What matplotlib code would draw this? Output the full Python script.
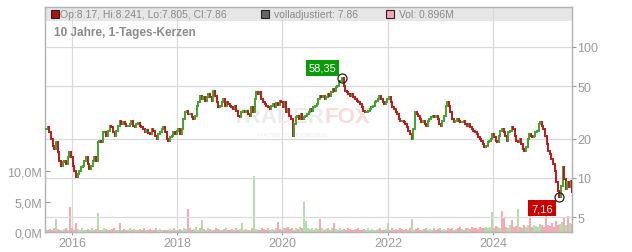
import numpy as np
import pandas as pd
import matplotlib
matplotlib.use('Agg')
import matplotlib.pyplot as plt
from matplotlib.patches import Rectangle
from matplotlib.collections import LineCollection
import matplotlib.dates as mdates

plt.rcParams['font.family'] = ['Liberation Sans', 'DejaVu Sans']

# closing prices, one chunk per date span
close_2015_2017 = [23.7, 24.5, 22.4, 19.8, 17.5, 16.6, 18.8, 15.8, 13.5, 12.3,
                   13.2, 13.5, 12.8, 14.5, 15.8, 14.5, 12.3, 11.3, 10.2, 10.7,
                   11.3, 12.1, 12.3, 13.5, 14.5, 12.8, 11.7, 12.3, 13.5, 14.5,
                   13.5, 18.8, 19.2, 18.8, 22.4, 22.4, 20.9, 22.8, 24.9, 24.5,
                   22.4, 20.9, 22.8, 24.9, 27.2, 25.8, 26.8, 25.8, 24.9, 24.9,
                   25.8, 27.2, 24.9, 24.5, 25.8, 26.3, 24.9, 24.5, 23.7, 22.4,
                   23.2, 22.0]
close_2017_2019 = [21.7, 23.7, 22.8, 20.9, 19.8, 21.7, 22.4, 23.7, 24.5, 22.4,
                   19.8, 19.2, 20.6, 20.9, 22.4, 21.7, 22.8, 23.7, 21.7, 23.7,
                   28.2, 31.9, 32.5, 30.8, 30.8, 29.2, 28.2, 29.7, 35.4, 38.0,
                   42.3, 40.1, 41.5, 38.7, 41.5, 43.8, 41.5, 38.7, 46.1, 42.3,
                   38.0, 34.8, 35.4, 38.0, 40.1, 35.4, 38.0, 36.7, 35.4, 34.8,
                   33.6, 35.4, 32.5, 29.7, 29.2, 31.9, 32.5, 31.9, 32.5, 30.8,
                   29.7, 34.8, 31.9, 40.1, 45.4, 43.8, 45.4, 40.1, 38.0, 36.7,
                   35.4, 34.8, 33.6, 35.4, 36.7, 34.8, 37.3, 36.1]
close_2019_2021 = [38.7, 38.0, 34.8, 38.0, 31.9, 33.6, 29.7, 28.2, 20.9, 25.8,
                   29.2, 29.7, 28.2, 30.8, 28.2, 29.2, 29.7, 30.8, 31.9, 33.6,
                   32.5, 34.8, 35.4, 36.7, 40.1, 42.3, 41.5, 42.3, 40.1, 41.5,
                   43.8, 42.3, 45.4, 47.8, 46.1, 49.5, 50.4, 54.1, 55.0, 58.35,
                   50.4, 46.1, 45.4, 43.8, 42.3, 43.8, 41.5]
close_2021_2023 = [40.1, 38.7, 38.0, 36.7, 34.8, 32.5, 31.9, 31.9, 32.5, 33.6,
                   34.8, 35.4, 38.0, 38.7, 40.1, 42.3, 40.1, 38.0, 36.7, 38.0,
                   40.1, 41.5, 38.0, 34.8, 33.6, 31.9, 30.8, 28.2, 27.2, 27.2,
                   26.8, 25.8, 24.5, 22.8, 21.7, 19.8, 23.7, 31.9, 30.8, 29.7,
                   28.2, 26.8, 27.2, 25.8, 24.9, 27.2, 28.2, 29.2, 29.7, 29.2,
                   29.7, 28.2, 25.8, 24.9, 27.2, 29.7, 35.4, 38.0, 35.4, 31.9,
                   28.2, 26.8, 27.2, 28.2, 27.2, 26.8]
close_2023_2025 = [26.8, 27.2, 25.8, 24.9, 25.8, 24.5, 23.7, 22.8, 22.4, 21.7,
                   20.6, 19.8, 19.2, 18.2, 17.2, 17.5, 18.8, 19.2, 19.8, 21.7,
                   20.6, 19.2, 18.8, 20.9, 22.8, 23.7, 22.4, 20.9, 19.2, 22.4,
                   22.8, 24.5, 23.7, 20.9, 19.2, 18.8, 19.8, 18.2, 16.6, 16.1,
                   17.2, 19.8, 21.7, 20.9, 20.6, 20.9, 22.4, 22.8, 25.8, 26.8,
                   24.9, 23.7, 20.9, 18.2, 16.1, 15.2, 14.0, 12.8, 11.3, 9.3,
                   7.95, 7.16, 8.7, 12.1, 9.8, 8.2, 9.3, 8.5, 9.5, 7.86]

chunks = [
    ('2015-07-04', '2017-06-12', close_2015_2017),
    ('2017-06-26', '2019-12-01', close_2017_2019),
    ('2019-12-14', '2021-05-06', close_2019_2021),
    ('2021-05-19', '2023-05-18', close_2021_2023),
    ('2023-06-01', '2025-07-03', close_2023_2025),
]

# volume in millions, evenly spaced over the whole period
volume = [0.3, 0.4, 0.5, 0.3, 0.6, 2.2, 0.5, 0.4, 0.3, 0.5, 0.7, 0.4, 4.1, 0.6, 0.3, 1.5, 0.5, 0.4, 0.6, 0.3,
          0.4, 0.5, 0.3, 0.6, 0.4, 0.5, 3.1, 0.4, 0.3, 0.6, 0.5, 0.4, 0.3, 0.5, 0.7, 0.4, 0.3, 1.5, 0.4, 0.5,
          0.3, 0.4, 0.6, 0.3, 0.5, 0.4, 0.3, 0.5, 0.4, 0.6, 0.3, 0.4, 0.5, 0.3, 0.4, 0.6, 0.3, 0.5, 0.4, 0.3,
          0.4, 0.3, 0.5, 0.4, 0.6, 0.3, 0.4, 0.5, 0.3, 0.7, 0.5, 3.8, 0.6, 0.4, 0.5, 0.8, 0.4, 0.6, 1.9, 0.5,
          0.4, 0.6, 0.5, 0.3, 0.4, 0.7, 0.5, 0.4, 0.3, 0.5, 0.6, 0.4, 0.3, 0.5, 0.4, 0.6, 0.3, 0.5, 1.5, 0.4,
          0.5, 0.3, 0.4, 0.6, 9.2, 0.5, 0.4, 0.3, 0.6, 0.5, 0.4, 0.7, 0.3, 0.5, 0.4, 0.6, 1.6, 0.5, 0.4, 0.7,
          0.6, 0.8, 0.5, 0.7, 0.4, 0.6, 0.5, 0.8, 0.6, 5.0, 1.8, 0.7, 0.5, 0.6, 0.4, 0.7, 0.5, 2.2, 0.6, 0.4,
          0.5, 0.7, 0.4, 0.6, 1.5, 0.5, 0.4, 0.6, 0.3, 0.5, 0.4, 0.6, 0.5, 0.3, 0.4, 0.5, 0.6, 0.4, 0.3, 0.5,
          0.4, 0.6, 0.3, 0.5, 0.4, 0.3, 0.5, 0.6, 0.4, 0.3, 0.5, 1.4, 0.4, 0.6, 0.3, 0.5, 0.4, 0.6, 0.5, 0.4,
          0.5, 0.3, 0.6, 2.1, 0.4, 0.5, 0.7, 0.4, 0.3, 0.5, 0.6, 0.4, 0.5, 0.3, 0.6, 0.4, 0.5, 0.7, 0.4, 0.5,
          0.4, 0.6, 0.5, 0.7, 0.4, 0.5, 0.6, 0.8, 0.5, 0.4, 0.7, 0.6, 0.5, 0.8, 0.6, 0.7, 0.5, 0.9, 0.6, 0.7,
          0.8, 0.6, 0.9, 3.3, 0.7, 1.0, 0.8, 0.6, 3.5, 2.5, 0.9, 0.7, 1.1, 1.9, 0.8, 1.0, 3.8, 0.9, 0.7, 1.2,
          0.9, 1.1, 4.6, 0.8, 1.2, 1.0, 0.9, 1.3, 1.1, 0.8, 3.0, 1.2, 1.0, 1.4, 0.9, 1.8, 1.1, 1.3, 1.6, 2.4,
          1.2, 2.6, 1.5, 1.3]

year_ticks = ['2016', '2018', '2020', '2022', '2024']
price_ticks = [5, 10, 20, 50, 100]
vol_ticks = [0, 5, 10]
vol_tick_labels = ['0,0M', '5,0M', '10,0M']
header = 'Op:8.17, Hi:8.241, Lo:7.805, Cl:7.86'

RED = '#c0161a'
GREEN = '#3ca52c'
GRID = '#dadada'
TXT = '#9a9a9a'

dates = pd.DatetimeIndex(np.concatenate(
    [pd.date_range(s, e, periods=len(v)).values for s, e, v in chunks]))
close = np.concatenate([np.array(v, float) for _, _, v in chunks])
opens = np.r_[close[0], close[:-1]]
up = close >= opens

vol = np.array(volume)
vdates = pd.date_range('2015-07-04', '2025-07-03', periods=len(vol))
idx = np.clip(dates.searchsorted(vdates), 1, len(close) - 1)
vcolors = np.where(up[idx], '#a9dca1', '#f3a3ad')

fig = plt.figure(figsize=(6.32, 2.53), dpi=100)
ax = fig.add_axes([45 / 632, 20 / 253, 527 / 632, 225 / 253])
ax2 = ax.twinx()

# volume panel (left axis)
ax.set_axisbelow(True)
ax.add_patch(Rectangle((0, 211 / 225), 1, 14 / 225, transform=ax.transAxes,
                       fc='#e6e6e6', ec='none', zorder=0))
ax.vlines(vdates, 0, vol, colors=vcolors, lw=1.3, zorder=2)
ax.set_ylim(0, 36.9)
ax.set_yticks(vol_ticks)
ax.set_yticklabels(vol_tick_labels)
ax.set_xlim(pd.Timestamp('2015-06-28'), pd.Timestamp('2025-07-02'))
ax.set_xticks([pd.Timestamp(y + '-01-01') for y in year_ticks])
ax.set_xticklabels(year_ticks)
ax.grid(axis='x', color=GRID, lw=0.9)
ax.tick_params(axis='y', direction='in', length=3.5, pad=2, colors=TXT, labelsize=9)
ax.tick_params(axis='x', direction='out', length=2.5, pad=1, colors=TXT, labelsize=9)

# price panel (right axis, log)
ax2.set_yscale('log')
ax2.set_ylim(3.87, 201.8)
ax2.set_yticks(price_ticks)
ax2.set_yticklabels([str(p) for p in price_ticks])
ax2.yaxis.set_minor_locator(matplotlib.ticker.NullLocator())
ax2.grid(axis='y', color=GRID, lw=0.9)
ax2.tick_params(axis='y', direction='out', length=3, pad=1, colors=TXT, labelsize=9)

x = mdates.date2num(dates)
lo = np.minimum(opens, close) * 0.985
hi = np.maximum(opens, close) * 1.015
segs = [[(xi, l), (xi, h)] for xi, l, h in zip(x, lo, hi)]
ax2.add_collection(LineCollection(segs, colors=np.where(up, GREEN, RED),
                                  linewidths=1.4, zorder=3))

for a in (ax, ax2):
    for s in a.spines.values():
        s.set_color('#b5b5b5')
        s.set_linewidth(0.9)

# watermark
ax2.text(0.531, 0.515, 'TRADER', transform=ax2.transAxes, ha='right', va='center',
         fontsize=16, fontweight='bold', color='#ececec', zorder=1)
ax2.text(0.531, 0.515, 'FOX', transform=ax2.transAxes, ha='left', va='center',
         fontsize=16, fontweight='bold', color='#fadada', zorder=1)
ax2.text(0.47, 0.435, 'REALTIME STOCKSCREENING', transform=ax2.transAxes,
         ha='center', va='center', fontsize=3.5, color='#ececec', zorder=1)

# header legend and title
hy = (233 - 15) / 225
for sx, fc in [(0.019, '#b01010'), (0.4175, '#666666'), (0.6546, '#f0a8b0')]:
    ax2.plot([sx], [hy], marker='s', ms=6, mfc=fc, mec='#222222', mew=0.8,
             transform=ax2.transAxes, clip_on=False, zorder=5)
ax2.text(0.0294, hy, header, transform=ax2.transAxes, va='center', fontsize=7.5, color='#8a8a8a')
ax2.text(0.434, hy, 'volladjustiert: 7.86', transform=ax2.transAxes, va='center',
         fontsize=7.5, color='#8a8a8a')
ax2.text(0.6717, hy, 'Vol: 0.896M', transform=ax2.transAxes, va='center',
         fontsize=7.5, color='#8a8a8a')
ax2.text(0.0163, (233 - 33) / 225, '10 Jahre, 1-Tages-Kerzen', transform=ax2.transAxes,
         va='center', fontsize=8.5, fontweight='bold', color='#8a8a8a')

# high / low markers
imax = int(np.argmax(close))
imin = int(np.argmin(close))
for i, off, bg in [(imax, (-14, 7), '#0a9a0a'), (imin, (-12.5, -8), '#cc0000')]:
    ax2.plot([x[i]], [close[i]], marker='o', ms=6.5, mfc='none', mec='#222222',
             mew=0.9, zorder=6)
    ax2.annotate(f'{close[i]:.2f}'.replace('.', ','), (x[i], close[i]), xytext=off,
                 textcoords='offset points', ha='center', va='center', fontsize=8,
                 color='white', zorder=7,
                 bbox=dict(boxstyle='square,pad=0.25', fc=bg, ec='none'))

fig.savefig('out.png', dpi=100)
